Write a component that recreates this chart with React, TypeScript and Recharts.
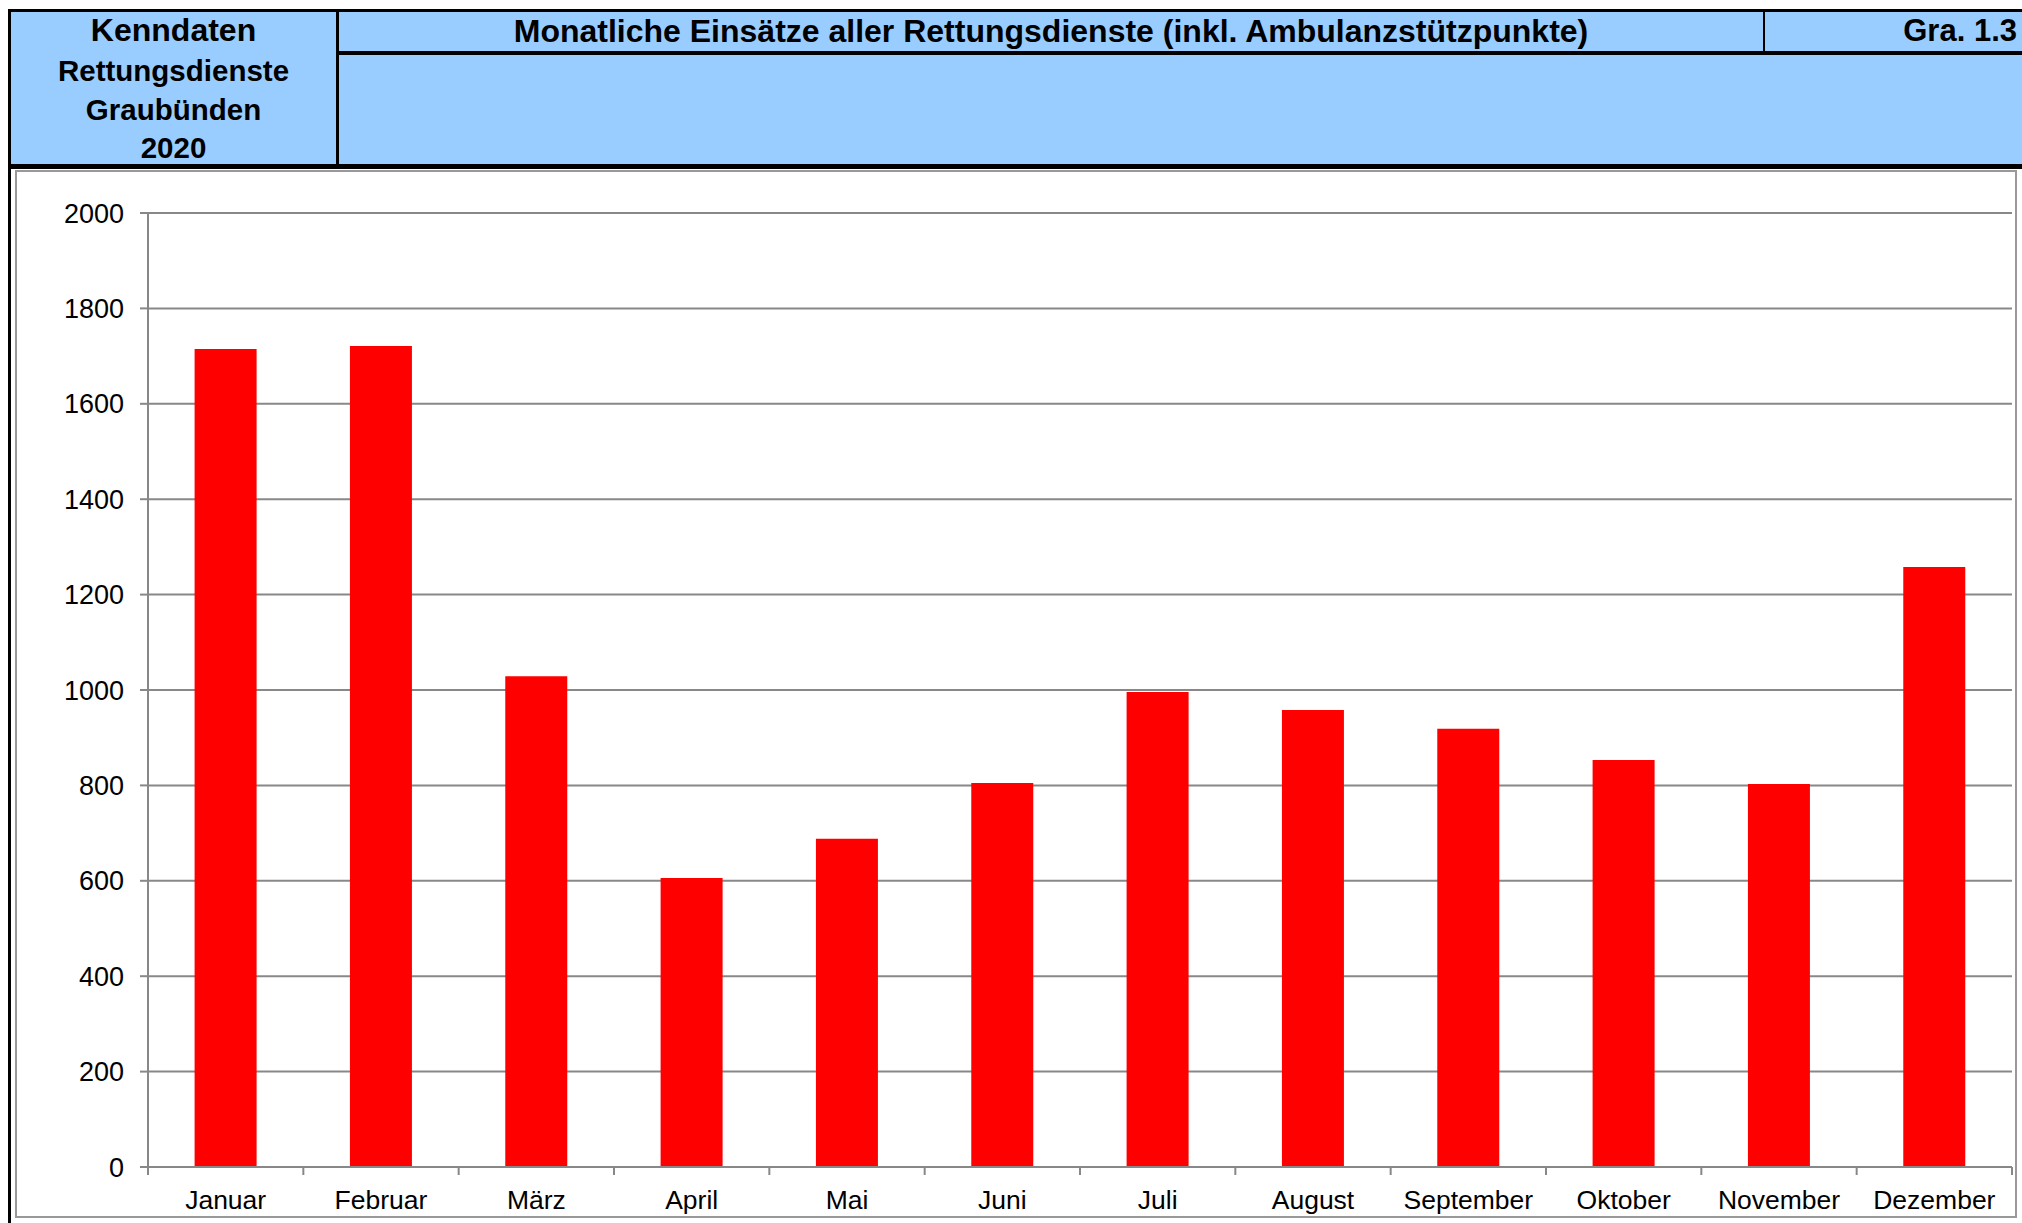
import React from "react";
import { BarChart, Bar, XAxis, YAxis, CartesianGrid } from "recharts";

const months = [
  "Januar",
  "Februar",
  "März",
  "April",
  "Mai",
  "Juni",
  "Juli",
  "August",
  "September",
  "Oktober",
  "November",
  "Dezember",
];
const einsaetze = [1715, 1721, 1029, 606, 688, 805, 996, 958, 919, 853, 803, 1258];
const yTicks = [0, 200, 400, 600, 800, 1000, 1200, 1400, 1600, 1800, 2000];

const headerLeft = ["Kenndaten", "Rettungsdienste", "Graubünden", "2020"];
const title = "Monatliche Einsätze aller Rettungsdienste (inkl. Ambulanzstützpunkte)";
const graNr = "Gra. 1.3";

const data = months.map((m, i) => ({ month: m, value: einsaetze[i] }));

const FONT = '"Liberation Sans", Arial, sans-serif';
const GRID = "#888888";

// chart layout
const CHART_W = 2000;
const CHART_H = 1046;
const MARGIN = { top: 42, right: 4, bottom: 0, left: 12 };
const Y_AXIS_W = 120;
const X_TICK_SIZE = 8;
const X_TICK_MARGIN = 15;
const BAND = (CHART_W - MARGIN.left - MARGIN.right - Y_AXIS_W) / months.length;

const MonthTick = (props: any) => {
  const { x, y, payload, index } = props;
  const axisY = y - X_TICK_SIZE - X_TICK_MARGIN;
  return (
    <g>
      <line x1={x - BAND / 2} x2={x - BAND / 2} y1={axisY} y2={axisY + X_TICK_SIZE} stroke={GRID} strokeWidth={2} />
      {index === months.length - 1 && (
        <line x1={x + BAND / 2} x2={x + BAND / 2} y1={axisY} y2={axisY + X_TICK_SIZE} stroke={GRID} strokeWidth={2} />
      )}
      <text x={x} y={y} dy="0.71em" textAnchor="middle" fill="#000" fontSize={26.5} fontFamily={FONT}>
        {payload.value}
      </text>
    </g>
  );
};

export default function App() {
  return (
    <div
      style={{
        position: "absolute",
        left: 0,
        top: 0,
        width: 2022,
        height: 1223,
        background: "#fff",
        overflow: "hidden",
        fontFamily: FONT,
      }}
    >
      {/* header block */}
      <div
        style={{
          position: "absolute",
          left: 8,
          top: 9,
          width: 2030,
          height: 160,
          background: "#99CCFF",
          borderTop: "3px solid #000",
          borderLeft: "3px solid #000",
          borderBottom: "5px solid #000",
          boxSizing: "border-box",
        }}
      />
      {/* left black border continues down */}
      <div style={{ position: "absolute", left: 8, top: 9, width: 3, height: 1214, background: "#000" }} />
      {/* row divider */}
      <div style={{ position: "absolute", left: 337, top: 51, width: 1700, height: 4, background: "#000" }} />
      {/* column dividers */}
      <div style={{ position: "absolute", left: 336, top: 9, width: 3, height: 159, background: "#000" }} />
      <div style={{ position: "absolute", left: 1763, top: 9, width: 2, height: 43, background: "#000" }} />

      {headerLeft.map((t, i) => (
        <div
          key={t}
          style={{
            position: "absolute",
            left: 11,
            width: 325,
            top: [30, 71, 110, 148][i] - 20,
            height: 40,
            lineHeight: "40px",
            textAlign: "center",
            fontWeight: "bold",
            fontSize: i === 0 ? 32 : 29.5,
            color: "#000",
          }}
        >
          {t}
        </div>
      ))}
      <div
        style={{
          position: "absolute",
          left: 339,
          width: 1424,
          top: 11,
          height: 40,
          lineHeight: "40px",
          textAlign: "center",
          fontWeight: "bold",
          fontSize: 32,
          color: "#000",
          whiteSpace: "nowrap",
        }}
      >
        {title}
      </div>
      <div
        style={{
          position: "absolute",
          left: 1765,
          width: 252,
          top: 11,
          height: 40,
          lineHeight: "40px",
          textAlign: "right",
          fontWeight: "bold",
          fontSize: 31,
          color: "#000",
        }}
      >
        {graNr}
      </div>

      {/* chart frame */}
      <div
        style={{
          position: "absolute",
          left: 15,
          top: 170,
          width: 2002,
          height: 1048,
          border: "2px solid #999",
          boxSizing: "border-box",
        }}
      />
      <div style={{ position: "absolute", left: 16, top: 171 }}>
        <BarChart width={CHART_W} height={CHART_H} data={data} margin={MARGIN} barCategoryGap="30%">
          <CartesianGrid horizontal vertical={false} stroke={GRID} strokeWidth={2} />
          <XAxis
            dataKey="month"
            height={CHART_H - MARGIN.top - 954}
            axisLine={{ stroke: GRID, strokeWidth: 2 }}
            tickLine={false}
            tickSize={X_TICK_SIZE}
            tickMargin={X_TICK_MARGIN}
            interval={0}
            tick={<MonthTick />}
          />
          <YAxis
            width={Y_AXIS_W}
            domain={[0, 2000]}
            ticks={yTicks}
            interval={0}
            axisLine={{ stroke: GRID, strokeWidth: 2 }}
            tickLine={{ stroke: GRID, strokeWidth: 2 }}
            tickSize={8}
            tickMargin={16}
            tick={{ fill: "#000", fontSize: 27, fontFamily: FONT }}
          />
          <Bar dataKey="value" fill="#FF0000" isAnimationActive={false} />
        </BarChart>
      </div>
    </div>
  );
}
